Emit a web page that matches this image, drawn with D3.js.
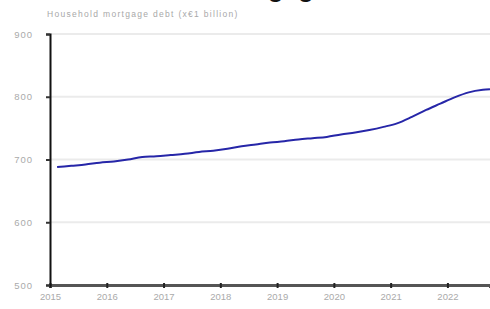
<!DOCTYPE html>
<html>
<head>
<meta charset="utf-8">
<script src="https://cdn.jsdelivr.net/npm/d3@7"></script>
<style>
  body { margin: 0; background: #fff; }
  text { font-family: "Liberation Sans", Arial, sans-serif; }
</style>
</head>
<body>
<div id="chart"></div>
<script>
// Data (quarterly)
const quarters = [
  2015.125, 2015.375, 2015.625, 2015.875,
  2016.125, 2016.375, 2016.625, 2016.875,
  2017.125, 2017.375, 2017.625, 2017.875,
  2018.125, 2018.375, 2018.625, 2018.875,
  2019.125, 2019.375, 2019.625, 2019.875,
  2020.125, 2020.375, 2020.625, 2020.875,
  2021.125, 2021.375, 2021.625, 2021.875,
  2022.125, 2022.375, 2022.625, 2022.75
];
const debt = [
  688, 690, 692, 695,
  697, 700, 704, 705,
  707, 709, 712, 714,
  717, 721, 724, 727,
  729, 732, 734, 736,
  740, 743, 747, 752,
  758, 768, 779, 789,
  799, 807, 811, 812
];
const yTicks = [500, 600, 700, 800, 900];
const xTicks = [2015, 2016, 2017, 2018, 2019, 2020, 2021, 2022];

const svgWidth = 490, svgHeight = 309;
const margin = { top: 34, right: 0, bottom: 24, left: 50 },
  width = svgWidth - margin.left - margin.right,
  height = svgHeight - margin.top - margin.bottom;

const root = d3.select("#chart").append("svg")
  .attr("width", svgWidth)
  .attr("height", svgHeight);

// title sits mostly above the frame, only descenders show
root.append("text")
  .attr("x", 236).attr("y", -3)
  .attr("text-anchor", "middle")
  .style("font-size", "26px").style("font-weight", "bold")
  .attr("fill", "#111")
  .text("Dutch mortgages");

root.append("text")
  .attr("x", 47).attr("y", 17)
  .style("font-size", "8.5px")
  .style("letter-spacing", "1.3px")
  .attr("fill", "#a8a8a8")
  .text("Household mortgage debt (x€1 billion)");

const svg = root.append("g")
  .attr("transform", "translate(" + margin.left + "," + margin.top + ")");

const x = d3.scaleLinear().domain([2015, 2022.75]).range([0, width]);
const y = d3.scaleLinear().domain([500, 900]).range([height, 0]);

// gridlines
svg.append("g")
  .selectAll("line")
  .data(yTicks.slice(1))
  .enter().append("line")
  .attr("x1", 0).attr("x2", width)
  .attr("y1", d => y(d)).attr("y2", d => y(d))
  .attr("stroke", "#ebebeb").attr("stroke-width", 2);

// x axis
const xAxis = svg.append("g")
  .attr("transform", "translate(0," + height + ")")
  .call(d3.axisBottom(x).tickValues(xTicks).tickFormat(d3.format("d")).tickSize(3).tickPadding(5));
xAxis.select(".domain").attr("stroke", "#555").attr("stroke-width", 3);
xAxis.selectAll(".tick line").attr("stroke", "#222").attr("stroke-width", 2).attr("y1", -2);
xAxis.selectAll(".tick text").attr("fill", "#aaa").style("font-size", "9.5px");

// y axis
const yAxis = svg.append("g")
  .call(d3.axisLeft(y).tickValues(yTicks).tickSize(4).tickPadding(13));
yAxis.select(".domain").attr("stroke", "#111").attr("stroke-width", 2);
yAxis.selectAll(".tick line").attr("stroke", "#333").attr("stroke-width", 2);
yAxis.selectAll(".tick text").attr("fill", "#aaa").style("font-size", "9.5px")
  .style("letter-spacing", "1px");

// line
const pts = quarters.map((q, i) => [q, debt[i]]);
svg.append("path")
  .datum(pts)
  .attr("fill", "none")
  .attr("stroke", "#2626a8")
  .attr("stroke-width", 2)
  .attr("d", d3.line().x(d => x(d[0])).y(d => y(d[1])).curve(d3.curveMonotoneX));
</script>
</body>
</html>
